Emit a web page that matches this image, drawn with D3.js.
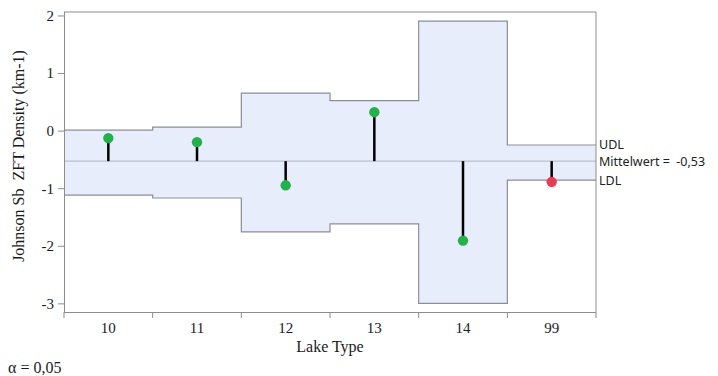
<!DOCTYPE html>
<meta charset="utf-8">
<style>
    body { margin: 0; background: #fff; }
    .axis text { font-family: "Liberation Serif", serif; font-size: 15px; fill: #1a1a2a; }
    .axis path, .axis line { stroke: #8c8c8c; }
    .needle { stroke: #000; stroke-width: 2.5px; }
    .side { font-family: "Noto Sans", "Open Sans", sans-serif; font-size: 12.5px; fill: #222; white-space: pre; }
    .title { font-family: "Liberation Serif", serif; font-size: 16px; fill: #1a1a1a; }
</style>
<body>
<svg width="718" height="376"></svg>
<script src="https://d3js.org/d3.v7.min.js"></script>
<script>
    // lake types and values
    var lakeTypes = ["10", "11", "12", "13", "14", "99"];
    var values = [-0.13, -0.2, -0.95, 0.32, -1.91, -0.89];
    var udl = [0.01, 0.06, 0.65, 0.52, 1.90, -0.25];
    var ldl = [-1.12, -1.17, -1.76, -1.62, -3.0, -0.86];
    var mean = -0.53;
    var yTicks = [2, 1, 0, -1, -2, -3];

    var svg = d3.select("svg"),
        margin = {top: 12, right: 122, bottom: 64, left: 64},
        width = +svg.attr("width") - margin.left - margin.right,
        height = +svg.attr("height") - margin.top - margin.bottom;

    var x = d3.scaleBand().domain(lakeTypes).range([0, width]);
    var y = d3.scaleLinear().domain([-3.15, 2.06]).range([height, 0]);

    var g = svg.append("g")
        .attr("transform", "translate(" + margin.left + "," + margin.top + ")");

    // control limit band as a step area
    var steps = [];
    lakeTypes.forEach(function (t, i) {
        steps.push({x: x(t), u: udl[i], l: ldl[i]});
        steps.push({x: x(t) + x.bandwidth(), u: udl[i], l: ldl[i]});
    });

    g.append("path")
        .datum(steps)
        .attr("fill", "#e8edfc")
        .attr("d", d3.area().x(function (d) { return d.x; })
            .y0(function (d) { return y(d.l); })
            .y1(function (d) { return y(d.u); }));

    g.append("path")
        .datum(steps)
        .attr("fill", "none").attr("stroke", "#8a8e99").attr("stroke-width", 1.2)
        .attr("d", d3.line().x(function (d) { return d.x; }).y(function (d) { return y(d.u); }));

    g.append("path")
        .datum(steps)
        .attr("fill", "none").attr("stroke", "#8a8e99").attr("stroke-width", 1.2)
        .attr("d", d3.line().x(function (d) { return d.x; }).y(function (d) { return y(d.l); }));

    // mean line
    g.append("line")
        .attr("x1", 0).attr("x2", width)
        .attr("y1", y(mean)).attr("y2", y(mean))
        .attr("stroke", "#b9c0d2").attr("stroke-width", 1.2);

    // frame: top and right
    g.append("line").attr("x1", 0).attr("x2", width).attr("y1", 0).attr("y2", 0)
        .attr("stroke", "#8c8c8c");
    g.append("line").attr("x1", width).attr("x2", width).attr("y1", 0).attr("y2", height)
        .attr("stroke", "#8c8c8c");

    // needles + points
    var pts = lakeTypes.map(function (t, i) {
        return {t: t, v: values[i], out: values[i] > udl[i] || values[i] < ldl[i]};
    });

    g.selectAll(".needle").data(pts).enter().append("line")
        .attr("class", "needle")
        .attr("x1", function (d) { return x(d.t) + x.bandwidth() / 2; })
        .attr("x2", function (d) { return x(d.t) + x.bandwidth() / 2; })
        .attr("y1", y(mean))
        .attr("y2", function (d) { return y(d.v); });

    g.selectAll(".pt").data(pts).enter().append("circle")
        .attr("class", "pt")
        .attr("cx", function (d) { return x(d.t) + x.bandwidth() / 2; })
        .attr("cy", function (d) { return y(d.v); })
        .attr("r", 5.2)
        .attr("fill", function (d) { return d.out ? "#ec3a4e" : "#22b24a"; });

    // axes
    var xAxis = g.append("g")
        .attr("class", "axis")
        .attr("transform", "translate(0," + height + ")")
        .call(d3.axisBottom(x).tickSize(0).tickPadding(10));
    xAxis.select(".domain").attr("d", "M0,0.5H" + width);
    xAxis.selectAll(".bound").data(d3.range(lakeTypes.length + 1)).enter().append("line")
        .attr("class", "bound")
        .attr("x1", function (i) { return i * x.bandwidth(); })
        .attr("x2", function (i) { return i * x.bandwidth(); })
        .attr("y1", 0).attr("y2", 6);

    var yAxis = g.append("g")
        .attr("class", "axis")
        .call(d3.axisLeft(y).tickValues(yTicks).tickSize(6).tickPadding(4)
            .tickFormat(function (d) { return d; }));
    yAxis.select(".domain").attr("d", "M0.5," + height + "V0");

    // axis titles
    svg.append("text")
        .attr("class", "title")
        .attr("transform", "translate(24,156) rotate(-90)")
        .attr("text-anchor", "middle")
        .style("white-space", "pre")
        .text("Johnson Sb  ZFT Density (km-1)");

    svg.append("text")
        .attr("class", "title")
        .attr("x", margin.left + width / 2)
        .attr("y", 352)
        .attr("text-anchor", "middle")
        .text("Lake Type");

    svg.append("text")
        .attr("class", "title")
        .attr("x", 8).attr("y", 373)
        .text("\u03b1 = 0,05");

    // right side labels
    var last = lakeTypes.length - 1;
    var side = [
        {t: "UDL", v: udl[last]},
        {t: "Mittelwert =  -0,53", v: mean},
        {t: "LDL", v: ldl[last]}
    ];
    g.selectAll(".side").data(side).enter().append("text")
        .attr("class", "side")
        .attr("x", width + 3)
        .attr("y", function (d) { return y(d.v); })
        .attr("dy", "0.35em")
        .text(function (d) { return d.t; });
</script>
</body>
